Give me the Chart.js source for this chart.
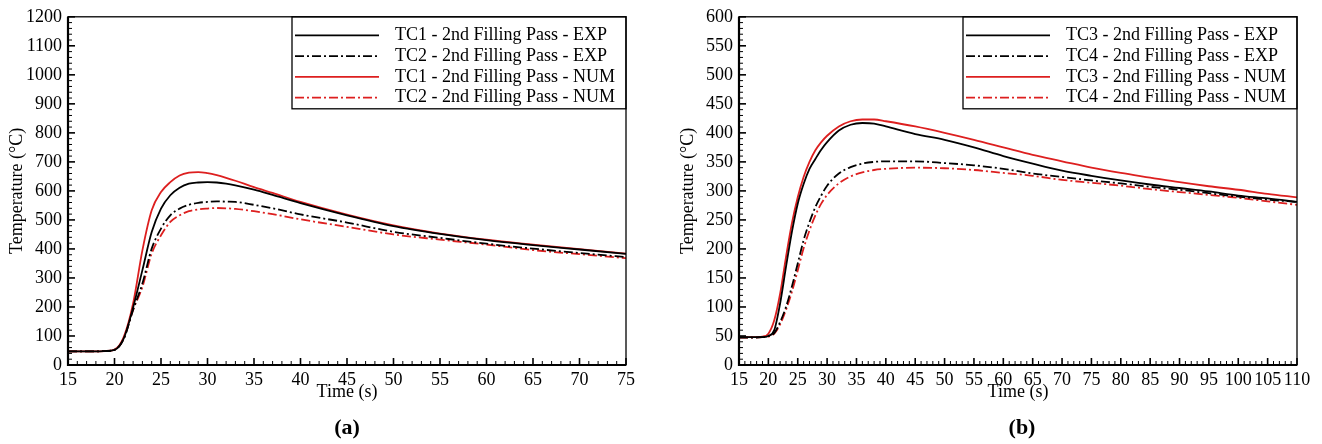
<!DOCTYPE html>
<html>
<head>
<meta charset="utf-8">
<script src="https://cdn.jsdelivr.net/npm/chart.js@4.4.0/dist/chart.umd.min.js"></script>
<style>
  body { margin: 0; background: #fff; }
  #wrap { position: relative; width: 1322px; height: 444px; overflow: hidden; }
  .panel { position: absolute; top: 0; }
  .tag { position: absolute; font: bold 22px "Liberation Serif", serif; transform: translate(-50%, -50%); }
</style>
</head>
<body>
<div id="wrap">
  <canvas id="chart-a" class="panel" width="660" height="444" style="left:0"></canvas>
  <canvas id="chart-b" class="panel" width="651" height="444" style="left:671px"></canvas>
  <div class="tag" style="left:347px;top:427px">(a)</div>
  <div class="tag" style="left:1022px;top:427px">(b)</div>
</div>
<script>
// panel (a) - TC1 / TC2
const timeA = [15, 16, 17, 18, 19, 20, 21, 22, 23, 24, 25, 26, 27, 28, 29, 30, 31, 32, 33, 35, 37, 40, 45, 50, 55, 60, 65, 70, 75];
const tc1Exp = [47, 47, 47, 47, 48, 52, 92, 198, 327, 458, 539, 585, 611, 625, 629, 630, 629, 625, 619, 604, 586, 558, 516, 479, 452, 430, 413, 398, 383];
const tc2Exp = [47, 47, 47, 47, 48, 52, 90, 190, 281, 401, 470, 516, 539, 552, 559, 562, 564, 563, 562, 552, 540, 519, 491, 459, 438, 418, 401, 386, 372];
const tc1Num = [47, 47, 47, 47, 48, 53, 97, 212, 395, 533, 596, 630, 653, 663, 665, 661, 654, 645, 635, 613, 593, 562, 518, 481, 453, 432, 415, 399, 384];
const tc2Num = [47, 47, 47, 47, 48, 52, 92, 190, 269, 384, 447, 493, 516, 530, 536, 539, 541, 540, 538, 530, 520, 502, 476, 450, 432, 415, 396, 382, 368];
const labelsA = ['TC1 - 2nd Filling Pass - EXP', 'TC2 - 2nd Filling Pass - EXP', 'TC1 - 2nd Filling Pass - NUM', 'TC2 - 2nd Filling Pass - NUM'];

// panel (b) - TC3 / TC4
const timeB = [15, 17, 19, 20, 21, 22, 23, 24, 25, 26, 27, 28, 29, 30, 32, 34, 36, 38, 40, 45, 50, 55, 60, 65, 70, 75, 80, 85, 90, 95, 100, 105, 110];
const tc3Exp = [48, 48, 48, 50, 60, 106, 169, 229, 278, 312, 338, 355, 371, 384, 404, 414, 417, 416, 411, 398, 388, 375, 360, 347, 335, 326, 318, 311, 305, 299, 292, 287, 281];
const tc4Exp = [47, 47, 48, 50, 55, 74, 100, 135, 175, 215, 246, 272, 292, 309, 330, 341, 347, 350, 351, 351, 348, 344, 338, 330, 324, 318, 313, 307, 302, 296, 290, 285, 281];
const tc3Num = [48, 48, 49, 54, 77, 123, 186, 244, 289, 324, 350, 370, 384, 395, 411, 420, 423, 423, 420, 411, 400, 388, 375, 362, 351, 340, 331, 323, 315, 308, 302, 295, 289];
const tc4Num = [47, 47, 48, 49, 54, 70, 95, 126, 163, 201, 232, 258, 278, 293, 313, 325, 332, 336, 338, 340, 339, 336, 331, 326, 319, 314, 309, 303, 298, 293, 288, 282, 276];
const labelsB = ['TC3 - 2nd Filling Pass - EXP', 'TC4 - 2nd Filling Pass - EXP', 'TC3 - 2nd Filling Pass - NUM', 'TC4 - 2nd Filling Pass - NUM'];

const RED = '#dd1f1f';
const DASHDOT = [9, 3, 2, 3];
const FONT = 'Liberation Serif';
const styles = [
  {color: '#000', dash: []},
  {color: '#000', dash: DASHDOT},
  {color: RED, dash: []},
  {color: RED, dash: DASHDOT}
];

function pts(t, v) {
  return t.map((x, i) => ({x: x, y: v[i]}));
}

// box, inward ticks and the legend, drawn over the chart
const framePlugin = {
  id: 'frame',
  afterDraw(chart, args, opts) {
    const {ctx, chartArea: a, scales: {x, y}} = chart;
    ctx.save();
    ctx.strokeStyle = '#000';

    for (let v = x.min; v <= x.max; v += opts.xMinor) {
      const px = x.getPixelForValue(v);
      const major = (v - x.min) % opts.xMajor === 0;
      ctx.lineWidth = major ? 1.6 : 1;
      ctx.beginPath();
      ctx.moveTo(px, a.bottom);
      ctx.lineTo(px, a.bottom - (major ? 7 : 4));
      ctx.stroke();
    }
    for (let v = y.min; v <= y.max; v += opts.yMinor) {
      const py = y.getPixelForValue(v);
      const major = v % opts.yMajor === 0;
      ctx.lineWidth = major ? 1.6 : 1;
      ctx.beginPath();
      ctx.moveTo(a.left, py);
      ctx.lineTo(a.left + (major ? 7 : 4), py);
      ctx.stroke();
    }

    ctx.lineWidth = 1.3;
    ctx.strokeRect(a.left, a.top, a.right - a.left, a.bottom - a.top);
    ctx.lineWidth = 2.2;
    ctx.beginPath();
    ctx.moveTo(a.left, a.top);
    ctx.lineTo(a.left, a.bottom);
    ctx.lineTo(a.right, a.bottom);
    ctx.stroke();

    // legend
    const bx = a.left + 224;
    ctx.lineWidth = 1.3;
    ctx.strokeRect(bx, a.top, a.right - bx, 92);
    ctx.font = '18px "' + FONT + '"';
    ctx.textBaseline = 'middle';
    ctx.fillStyle = '#000';
    chart.data.datasets.forEach((ds, i) => {
      const ry = a.top + 18.5 + i * 20.8;
      ctx.strokeStyle = ds.borderColor;
      ctx.lineWidth = 1.8;
      ctx.setLineDash(ds.borderDash);
      ctx.beginPath();
      ctx.moveTo(bx + 3, ry);
      ctx.lineTo(bx + 87, ry);
      ctx.stroke();
      ctx.setLineDash([]);
      ctx.fillText(ds.label, bx + 103, ry);
    });
    ctx.restore();
  }
};

function makeChart(id, time, series, labels, xMax, yMax, yStep, padRight) {
  const datasets = series.map((s, i) => ({
    label: labels[i],
    data: pts(time, s),
    borderColor: styles[i].color,
    borderDash: styles[i].dash,
    borderWidth: 1.8,
    pointRadius: 0,
    cubicInterpolationMode: 'monotone',
    fill: false
  }));

  return new Chart(document.getElementById(id).getContext('2d'), {
    type: 'line',
    data: {datasets: datasets},
    plugins: [framePlugin],
    options: {
      responsive: false,
      animation: false,
      layout: {padding: {top: 16, right: padRight, bottom: 0, left: 0}},
      plugins: {
        legend: {display: false},
        tooltip: {enabled: false},
        frame: {xMinor: 1, xMajor: 5, yMinor: yStep / 5, yMajor: yStep}
      },
      scales: {
        x: {
          type: 'linear',
          min: 15,
          max: xMax,
          afterFit: (scale) => { scale.height = 79; },
          grid: {display: true, drawOnChartArea: false, drawTicks: false},
          border: {display: false},
          ticks: {
            stepSize: 5,
            autoSkip: false,
            maxRotation: 0,
            padding: 4,
            color: '#000',
            font: {family: FONT, size: 18},
            callback: (v) => String(v)
          },
          title: {
            display: true,
            text: 'Time (s)',
            color: '#000',
            font: {family: FONT, size: 18},
            padding: {top: 0, bottom: 41}
          }
        },
        y: {
          min: 0,
          max: yMax,
          afterFit: (scale) => { scale.width = 68; },
          grid: {display: true, drawOnChartArea: false, drawTicks: false},
          border: {display: false},
          ticks: {
            stepSize: yStep,
            autoSkip: false,
            padding: 6,
            color: '#000',
            font: {family: FONT, size: 18},
            callback: (v) => String(v)
          },
          title: {
            display: true,
            text: 'Temperature (°C)',
            color: '#000',
            font: {family: FONT, size: 18},
            padding: {top: 6, bottom: 0}
          }
        }
      }
    }
  });
}

makeChart('chart-a', timeA, [tc1Exp, tc2Exp, tc1Num, tc2Num], labelsA, 75, 1200, 100, 34);
makeChart('chart-b', timeB, [tc3Exp, tc4Exp, tc3Num, tc4Num], labelsB, 110, 600, 50, 25);
</script>
</body>
</html>
